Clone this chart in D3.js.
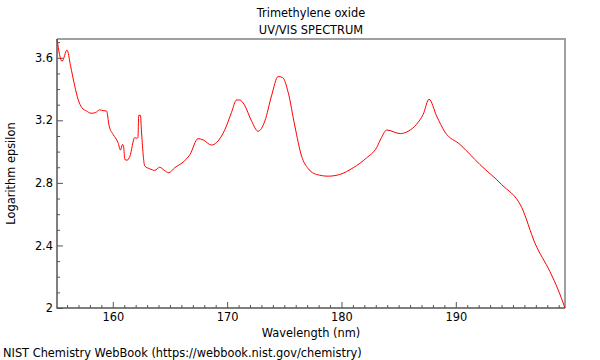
<!DOCTYPE html>
<html>
<head>
<meta charset="utf-8">
<title>Trimethylene oxide UV/VIS</title>
<script src="https://d3js.org/d3.v7.min.js"></script>
<style>
  body { margin: 0; background: #fff; }
  svg text { font-family: "DejaVu Sans", sans-serif; fill: #000; }
</style>
</head>
<body>
<svg id="chart" width="600" height="360"></svg>
<script>
// data
const wavelength = [155.12, 155.56, 156.0, 156.3, 156.67, 156.96, 157.3, 157.7, 158.1, 158.5,
  158.86, 159.15, 159.45, 159.68, 160.03, 160.46, 160.67, 160.85, 160.95, 161.05,
  161.25, 161.49, 161.92, 162.1, 162.2, 162.27, 162.42, 162.5, 162.8, 163.24,
  163.67, 164.1, 164.5, 164.9, 165.42, 166.15, 166.74, 167.46, 167.9, 168.63,
  169.1, 169.8, 170.38, 170.82, 171.1, 171.5, 172.13, 172.71, 173.3, 173.88,
  174.46, 174.85, 175.34, 175.92, 176.51, 177.1, 177.82, 178.84, 179.86, 181.03,
  182.2, 183.07, 183.5, 183.95, 185.16, 185.83, 186.57, 187.15, 187.66, 188.32,
  189.05, 190.36, 192.1, 194.0, 195.76, 196.92, 198.23, 198.96, 199.55];
const logEps = [3.72, 3.577, 3.65, 3.55, 3.42, 3.335, 3.28, 3.26, 3.245, 3.25,
  3.267, 3.262, 3.26, 3.164, 3.11, 3.057, 3.01, 3.046, 3.03, 2.95,
  2.945, 2.97, 3.09, 3.085, 3.09, 3.232, 3.232, 3.14, 2.907, 2.89,
  2.88, 2.9, 2.88, 2.865, 2.897, 2.933, 2.98, 3.083, 3.075, 3.042,
  3.06, 3.14, 3.25, 3.33, 3.33, 3.3, 3.196, 3.13, 3.196, 3.356,
  3.48, 3.474, 3.378, 3.164, 2.971, 2.89, 2.854, 2.843, 2.854, 2.897,
  2.96, 3.025, 3.09, 3.138, 3.115, 3.13, 3.175, 3.239, 3.335, 3.228,
  3.125, 3.046, 2.918, 2.79, 2.644, 2.415, 2.233, 2.115, 2.0];
const xTicks = [160, 170, 180, 190];
const yTicks = [2, 2.4, 2.8, 3.2, 3.6];
const titleLines = ["Trimethylene oxide", "UV/VIS SPECTRUM"];

const svg = d3.select("#chart");
const plotL = 57, plotR = 565, plotT = 39, plotB = 308;
const fs = 11.4;

const x = d3.scaleLinear().domain(d3.extent(wavelength)).range([plotL, plotR]);
const y = d3.scaleLinear().domain(d3.extent(logEps)).range([plotB, plotT]);

// frame: light top/right
svg.append("path")
  .attr("d", `M${plotL},${plotT}H${plotR}V${plotB}`)
  .attr("fill", "none").attr("stroke", "#a0a0a0").attr("stroke-width", 2);

// minor ticks
const xMinor = d3.range(156, 200, 1).filter(v => v % 10 !== 0);
const yMinor = d3.range(21, 38, 1).filter(v => v % 4 !== 0).map(v => v / 10);

const gx = svg.append("g").attr("transform", `translate(0,${plotB})`);
gx.call(d3.axisBottom(x).tickValues(xMinor).tickSize(-3).tickFormat(""));
gx.select(".domain").remove();
const gx2 = svg.append("g").attr("transform", `translate(0,${plotB})`);
gx2.call(d3.axisBottom(x).tickValues(xTicks).tickSize(-6).tickPadding(5).tickFormat(d3.format("d")));
gx2.select(".domain").remove();

const gy = svg.append("g").attr("transform", `translate(${plotL},0)`);
gy.call(d3.axisLeft(y).tickValues(yMinor).tickSize(-3).tickFormat(""));
gy.select(".domain").remove();
const gy2 = svg.append("g").attr("transform", `translate(${plotL},0)`);
gy2.call(d3.axisLeft(y).tickValues(yTicks).tickSize(-6).tickPadding(4).tickFormat(d => String(+d.toFixed(1))));
gy2.select(".domain").remove();

svg.selectAll(".tick line").attr("stroke", "#555");
svg.selectAll(".tick text").attr("font-size", fs).attr("font-family", "DejaVu Sans, sans-serif").attr("fill", "#000");

// data line
const line = d3.line()
  .x((d, i) => x(wavelength[i]))
  .y(d => y(d))
  .curve(d3.curveMonotoneX);
svg.append("path")
  .datum(logEps)
  .attr("d", line)
  .attr("fill", "none")
  .attr("stroke", "#ff0000")
  .attr("stroke-width", 1);

// axes lines left/bottom
svg.append("path")
  .attr("d", `M${plotL},${plotT}V${plotB}H${plotR}`)
  .attr("fill", "none").attr("stroke", "#555").attr("stroke-width", 1.5);

// titles
svg.selectAll("text.title")
  .data(titleLines)
  .enter().append("text")
  .attr("class", "title")
  .attr("x", (plotL + plotR) / 2)
  .attr("y", (d, i) => 17 + i * 17)
  .attr("text-anchor", "middle")
  .attr("font-size", fs)
  .text(d => d);

svg.append("text")
  .attr("x", (plotL + plotR) / 2).attr("y", 337)
  .attr("text-anchor", "middle").attr("font-size", fs)
  .text("Wavelength (nm)");

svg.append("text")
  .attr("transform", `translate(15,${(plotT + plotB) / 2}) rotate(-90)`)
  .attr("text-anchor", "middle").attr("font-size", fs)
  .text("Logarithm epsilon");

svg.append("text")
  .attr("x", 3).attr("y", 357)
  .attr("font-size", fs)
  .text("NIST Chemistry WebBook (https://webbook.nist.gov/chemistry)");
</script>
</body>
</html>
